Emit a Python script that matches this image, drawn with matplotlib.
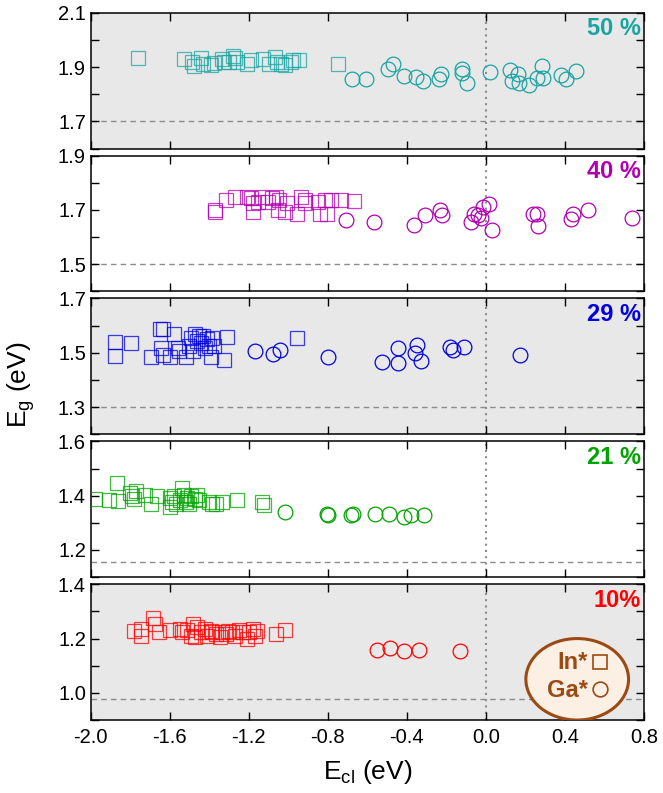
import matplotlib
matplotlib.use("Agg")
import matplotlib.pyplot as plt
from matplotlib.patches import Ellipse
from matplotlib.ticker import FixedLocator, MultipleLocator

# ── data: In* (squares) and Ga* (circles) per composition ─────────────────────

labels = ["50 %", "40 %", "29 %", "21 %", "10%"]
colors = ["#1aa3a3", "#b000b0", "#0000e0", "#00a300", "#ff0000"]
ylims = [(1.6, 2.1), (1.4, 1.9), (1.2, 1.7), (1.1, 1.6), (0.9, 1.4)]
gap_ref = [1.70, 1.50, 1.30, 1.155, 0.976]
shaded = [True, False, True, False, True]

in50_x = [-1.76, -1.53, -1.49, -1.48, -1.44, -1.43, -1.39, -1.375, -1.335, -1.325,
          -1.30, -1.28, -1.27, -1.26, -1.21, -1.19, -1.13, -1.10, -1.065, -1.055,
          -1.035, -1.015, -0.985, -0.975, -0.945, -0.75]
in50_y = [1.932, 1.930, 1.920, 1.905, 1.932, 1.911, 1.909, 1.915, 1.930, 1.920,
          1.917, 1.942, 1.932, 1.920, 1.911, 1.924, 1.930, 1.911, 1.936, 1.917,
          1.911, 1.907, 1.917, 1.924, 1.926, 1.911]
ga50_x = [-0.676, -0.608, -0.495, -0.468, -0.413, -0.355, -0.320, -0.239, -0.229,
          -0.122, -0.118, -0.093, 0.020, 0.125, 0.131, 0.165, 0.169, 0.218, 0.257,
          0.286, 0.290, 0.379, 0.406, 0.457]
ga50_y = [1.855, 1.855, 1.893, 1.911, 1.868, 1.865, 1.849, 1.855, 1.874, 1.893,
          1.878, 1.843, 1.880, 1.890, 1.849, 1.874, 1.843, 1.834, 1.858, 1.905,
          1.858, 1.870, 1.855, 1.886]

in40_x = [-1.369, -1.369, -1.316, -1.272, -1.210, -1.190, -1.180, -1.180, -1.151,
          -1.132, -1.103, -1.083, -1.064, -1.054, -1.045, -1.015, -1.006, -0.957,
          -0.938, -0.918, -0.918, -0.850, -0.841, -0.812, -0.802, -0.782, -0.734,
          -0.666]
in40_y = [1.699, 1.693, 1.736, 1.748, 1.748, 1.742, 1.724, 1.693, 1.730, 1.748,
          1.730, 1.742, 1.748, 1.699, 1.736, 1.693, 1.724, 1.686, 1.748, 1.736,
          1.724, 1.730, 1.686, 1.736, 1.686, 1.736, 1.736, 1.734]
ga40_x = [-0.709, -0.565, -0.365, -0.307, -0.233, -0.223, -0.074, -0.060, -0.041,
          -0.025, -0.015, 0.018, 0.029, 0.237, 0.257, 0.266, 0.431, 0.441, 0.519,
          0.742]
ga40_y = [1.664, 1.655, 1.643, 1.680, 1.699, 1.680, 1.655, 1.686, 1.680, 1.671,
          1.711, 1.720, 1.627, 1.686, 1.686, 1.639, 1.668, 1.686, 1.699, 1.671]

in29_x = [-1.880, -1.880, -1.796, -1.695, -1.652, -1.637, -1.647, -1.637, -1.598,
          -1.579, -1.559, -1.555, -1.520, -1.501, -1.491, -1.481, -1.472, -1.462,
          -1.452, -1.443, -1.433, -1.423, -1.413, -1.404, -1.394, -1.384, -1.375,
          -1.326, -1.311, -0.957]
in29_y = [1.541, 1.490, 1.537, 1.486, 1.588, 1.588, 1.518, 1.492, 1.486, 1.569,
          1.518, 1.505, 1.486, 1.524, 1.556, 1.505, 1.569, 1.544, 1.563, 1.537,
          1.563, 1.518, 1.550, 1.524, 1.486, 1.556, 1.524, 1.473, 1.559, 1.554]
ga29_x = [-1.167, -1.080, -1.041, -0.798, -0.524, -0.446, -0.443, -0.359, -0.349,
          -0.326, -0.180, -0.167, -0.109, 0.173]
ga29_y = [1.505, 1.496, 1.512, 1.483, 1.467, 1.518, 1.464, 1.499, 1.528, 1.469,
          1.521, 1.512, 1.521, 1.492]

in21_x = [-1.977, -1.909, -1.866, -1.860, -1.802, -1.792, -1.782, -1.773, -1.724,
          -1.695, -1.666, -1.598, -1.598, -1.588, -1.579, -1.569, -1.549, -1.540,
          -1.530, -1.520, -1.511, -1.501, -1.491, -1.472, -1.462, -1.452, -1.404,
          -1.384, -1.365, -1.336, -1.258, -1.132, -1.122]
in21_y = [1.388, 1.384, 1.448, 1.380, 1.410, 1.397, 1.388, 1.416, 1.403, 1.371,
          1.397, 1.390, 1.359, 1.378, 1.397, 1.371, 1.384, 1.429, 1.403, 1.375,
          1.390, 1.371, 1.397, 1.388, 1.403, 1.384, 1.378, 1.368, 1.371, 1.378,
          1.384, 1.378, 1.365]
ga21_x = [-1.015, -0.802, -0.798, -0.685, -0.670, -0.559, -0.491, -0.413, -0.378,
          -0.312]
ga21_y = [1.340, 1.333, 1.330, 1.330, 1.333, 1.333, 1.333, 1.321, 1.330, 1.327]

in10_x = [-1.782, -1.744, -1.744, -1.685, -1.676, -1.656, -1.598, -1.549, -1.540,
          -1.511, -1.491, -1.481, -1.472, -1.462, -1.443, -1.423, -1.413, -1.394,
          -1.384, -1.365, -1.346, -1.336, -1.316, -1.307, -1.287, -1.268, -1.248,
          -1.229, -1.210, -1.200, -1.180, -1.171, -1.161, -1.064, -1.015]
in10_y = [1.228, 1.211, 1.236, 1.274, 1.255, 1.224, 1.230, 1.236, 1.224, 1.230,
          1.211, 1.255, 1.205, 1.243, 1.224, 1.236, 1.211, 1.228, 1.224, 1.218,
          1.205, 1.224, 1.218, 1.228, 1.224, 1.211, 1.230, 1.224, 1.199, 1.224,
          1.236, 1.211, 1.228, 1.218, 1.230]
ga10_x = [-0.549, -0.487, -0.413, -0.340, -0.132]
ga10_y = [1.157, 1.167, 1.155, 1.157, 1.155]

in_x = [in50_x, in40_x, in29_x, in21_x, in10_x]
in_y = [in50_y, in40_y, in29_y, in21_y, in10_y]
ga_x = [ga50_x, ga40_x, ga29_x, ga21_x, ga10_x]
ga_y = [ga50_y, ga40_y, ga29_y, ga21_y, ga10_y]

x_ticks = [-2.0, -1.6, -1.2, -0.8, -0.4, 0.0, 0.4, 0.8]

# ── style ────────────────────────────────────────────────────────────────────

plt.rcParams.update({
    "font.family": ["Liberation Sans", "DejaVu Sans"],
    "mathtext.default": "regular",
    "font.size": 14,
    "axes.linewidth": 1.1,
    "xtick.direction": "in",
    "ytick.direction": "in",
    "xtick.top": True,
    "ytick.right": True,
})

BG_GRAY = "#e8e8e8"
REF_GRAY = "#8c8c8c"
BROWN = "#9a4a12"
MS_SQ, MS_CI = 10.2, 10.6

fig, axes = plt.subplots(5, 1, figsize=(6.63, 7.93), dpi=100, sharex=True)
fig.subplots_adjust(left=0.137, right=0.971, top=0.984, bottom=0.092, hspace=0.052)

for i, ax in enumerate(axes):
    c = colors[i]
    lo, hi = ylims[i]
    if shaded[i]:
        ax.set_facecolor(BG_GRAY)

    ax.axhline(gap_ref[i], color=REF_GRAY, lw=1.0, ls=(0, (4, 3)), zorder=1)
    ax.axvline(0.0, color=REF_GRAY, lw=1.5, ls=(0, (1, 2)), zorder=1)

    ax.plot(in_x[i], in_y[i], ls="none", marker="s", ms=MS_SQ, mfc="none",
            mec=c, mew=0.9, alpha=0.75, zorder=3)
    ax.plot(ga_x[i], ga_y[i], ls="none", marker="o", ms=MS_CI, mfc="none",
            mec=c, mew=0.9, zorder=3)

    ax.text(0.995, 0.965, labels[i], transform=ax.transAxes, ha="right",
            va="top", color=c, fontsize=17, fontweight="bold")

    ax.set_xlim(-2.0, 0.8)
    ax.set_ylim(lo, hi)
    ax.yaxis.set_major_locator(FixedLocator([hi - 0.4, hi - 0.2, hi]))
    ax.yaxis.set_minor_locator(MultipleLocator(0.1))
    ax.set_yticklabels([f"{v:.1f}" for v in (hi - 0.4, hi - 0.2, hi)])
    ax.set_xticks(x_ticks)
    ax.tick_params(which="both", length=6, width=1.0, labelsize=14.5)
    ax.tick_params(axis="x", pad=6)

axes[-1].set_xticklabels([f"{v:.1f}" for v in x_ticks])
axes[-1].set_xlabel("E$_{cl}$ (eV)", fontsize=19, labelpad=8)
fig.text(0.032, 0.515, "E$_g$ (eV)", rotation=90, fontsize=19,
         ha="center", va="center")

# legend ellipse in the bottom panel
ax = axes[-1]
ax.add_patch(Ellipse((0.463, 1.05), 0.52, 0.30, facecolor="#fcefe4",
                     edgecolor=BROWN, lw=2.2, zorder=4))
ax.text(0.517, 1.112, "In*", ha="right", va="center", color=BROWN,
        fontsize=17, fontweight="bold", zorder=5)
ax.text(0.517, 1.008, "Ga*", ha="right", va="center", color=BROWN,
        fontsize=17, fontweight="bold", zorder=5)
ax.plot([0.578], [1.115], marker="s", ms=MS_SQ, mfc="none", mec=BROWN,
        mew=1.2, zorder=5)
ax.plot([0.578], [1.013], marker="o", ms=MS_CI, mfc="none", mec=BROWN,
        mew=1.2, zorder=5)

fig.savefig("out.png", dpi=100)
